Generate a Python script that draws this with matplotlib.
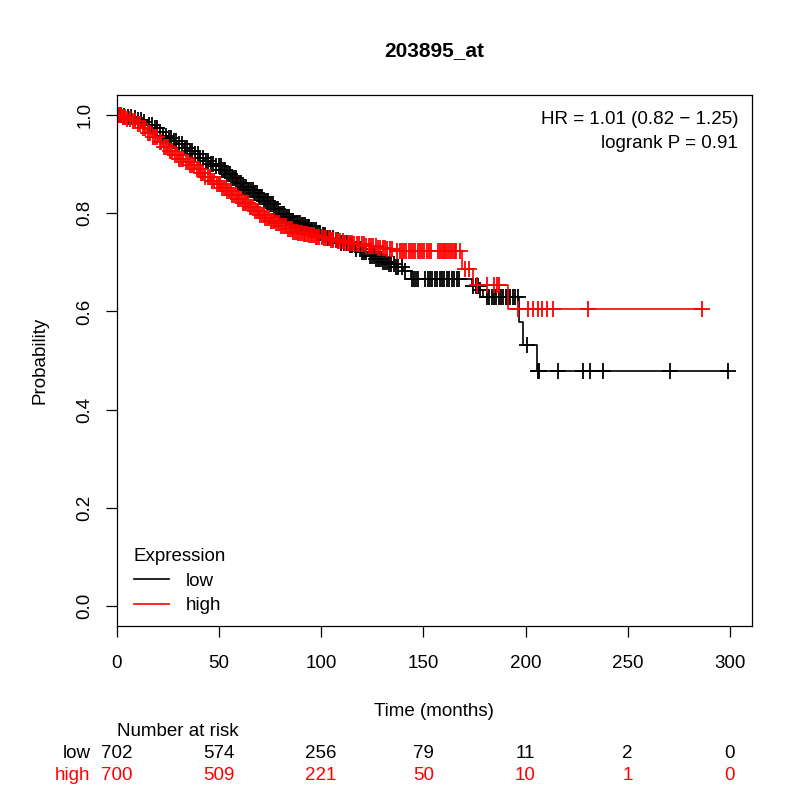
import numpy as np
import matplotlib
matplotlib.use("Agg")
import matplotlib.pyplot as plt
import matplotlib.transforms as mtransforms

plt.rcParams['font.family'] = ['Liberation Sans', 'DejaVu Sans']

# Kaplan-Meier steps (months, survival after the step)
low_t = [0, 2.5, 4.8, 7.1, 9.6, 12.2, 14.7, 17.3, 19.9, 22.4, 25.0, 27.6, 30.1,
         32.7, 35.2, 37.8, 40.5, 43.1, 45.8, 48.4, 51.0, 53.5, 56.1, 58.6, 61.2,
         63.9, 66.5, 69.0, 71.6, 74.2, 76.8, 79.3, 81.9, 84.6, 87.2, 89.8, 92.4,
         95.0, 97.6, 100.3, 103.0, 106.2, 109.5, 112.8, 116.0, 119.4, 122.7,
         126.1, 129.6, 133.0, 136.5, 140.1, 143.8, 174.0, 177.6, 179.2, 197.0,
         198.6, 205.6]
low_s = [1.000, 0.998, 0.995, 0.993, 0.990, 0.986, 0.980, 0.973, 0.965, 0.958,
         0.952, 0.946, 0.940, 0.933, 0.927, 0.920, 0.913, 0.906, 0.900, 0.895,
         0.888, 0.880, 0.871, 0.862, 0.854, 0.847, 0.840, 0.832, 0.825, 0.818,
         0.809, 0.799, 0.792, 0.785, 0.780, 0.776, 0.771, 0.766, 0.760, 0.755,
         0.750, 0.746, 0.740, 0.735, 0.728, 0.720, 0.712, 0.706, 0.700, 0.696,
         0.690, 0.683, 0.667, 0.652, 0.644, 0.630, 0.579, 0.532, 0.478]
low_cens = [0.8, 1.5, 2.2, 3.6, 5.5, 7.0, 8.9, 10.4, 12.0, 13.3, 15.6, 17.0, 18.5,
            19.8, 21.2, 22.7, 23.9, 25.4, 26.3, 27.8, 29.1, 30.6, 31.9, 33.2, 34.5,
            35.8, 36.9, 38.4, 39.5, 40.9, 42.2, 43.6, 44.8, 46.1, 47.3, 48.7, 49.9,
            50.8, 51.6, 52.5, 53.1, 53.9, 54.8, 55.4, 56.2, 57.1, 57.8, 58.5, 59.4,
            60.1, 60.9, 61.7, 62.4, 63.2, 64.1, 64.7, 65.5, 66.4, 67.1, 67.8, 68.7,
            69.4, 70.2, 70.9, 71.8, 72.5, 73.3, 74.1, 74.8, 75.6, 76.5, 77.1, 77.9,
            78.8, 79.5, 80.2, 81.1, 81.8, 82.6, 83.4, 84.1, 84.9, 85.8, 86.4, 87.2,
            88.1, 88.8, 89.5, 90.4, 91.1, 91.9, 92.7, 93.4, 94.2, 95.1, 95.7, 96.5,
            97.4, 98.1, 98.8, 99.6, 100.7, 101.9, 103.4, 104.2, 105.8, 107.1, 108.3,
            109.9, 111.2, 112.6, 114.0, 115.3, 117.1, 118.8, 119.9, 120.8, 122.1,
            124.0, 124.9, 125.8, 126.7, 127.6, 128.5, 129.4, 130.3, 131.2, 132.1,
            133.0, 134.2, 135.5, 136.6, 137.8, 139.4, 141.2, 144.5, 145.3, 146.2,
            147.6, 151.0, 152.1, 153.3, 154.4, 155.5, 156.8, 158.0, 159.2, 160.3,
            161.5, 162.7, 163.8, 165.0, 166.3, 167.6, 174.5, 175.6, 176.8, 177.9,
            181.2, 182.3, 183.5, 184.6, 185.7, 186.9, 188.0, 189.2, 190.3, 191.5,
            192.6, 193.8, 195.0, 196.1, 200.9, 205.9, 206.4, 216.0, 228.0, 231.5,
            238.0, 270.7, 299.0]

high_t = [0, 2.4, 4.9, 7.3, 9.8, 12.3, 14.9, 17.4, 20.0, 22.6, 25.1, 27.7, 30.3,
          32.8, 35.4, 38.1, 40.7, 43.3, 45.9, 48.5, 51.2, 53.8, 56.4, 59.1, 61.7,
          64.4, 67.0, 69.7, 72.3, 75.0, 77.6, 80.3, 83.0, 85.7, 88.4, 91.1, 94.0,
          97.2, 100.5, 104.1, 107.8, 111.6, 116.0, 121.3, 127.5, 132.0, 136.2,
          169.1, 174.3, 191.2]
high_s = [1.000, 0.996, 0.992, 0.987, 0.981, 0.973, 0.964, 0.955, 0.945, 0.935,
          0.927, 0.919, 0.911, 0.904, 0.897, 0.889, 0.882, 0.874, 0.866, 0.859,
          0.852, 0.845, 0.837, 0.829, 0.821, 0.813, 0.805, 0.797, 0.791, 0.785,
          0.779, 0.773, 0.767, 0.762, 0.759, 0.757, 0.755, 0.752, 0.749, 0.746,
          0.743, 0.740, 0.737, 0.734, 0.730, 0.727, 0.722, 0.687, 0.654, 0.606]
high_cens = [0.6, 1.3, 2.0, 2.9, 3.8, 5.1, 6.4, 7.9, 9.0, 10.2, 11.5, 12.6, 13.9,
             15.1, 16.2, 17.6, 18.8, 19.7, 20.9, 21.8, 22.9, 24.1, 25.0, 26.1, 27.2,
             28.3, 29.4, 30.5, 31.5, 32.6, 33.7, 34.8, 35.9, 36.9, 38.0, 39.1, 40.2,
             41.3, 42.3, 43.4, 44.5, 45.6, 46.6, 47.7, 48.8, 49.8, 50.6, 51.5, 52.3,
             53.2, 54.0, 54.9, 55.7, 56.6, 57.4, 58.3, 59.1, 60.0, 60.8, 61.7, 62.5,
             63.4, 64.2, 65.1, 65.9, 66.8, 67.6, 68.5, 69.3, 70.2, 71.0, 71.9, 72.7,
             73.6, 74.4, 75.3, 76.1, 77.0, 77.8, 78.7, 79.5, 80.4, 81.2, 82.1, 82.9,
             83.8, 84.6, 85.5, 86.3, 87.2, 88.0, 88.9, 89.7, 90.6, 91.4, 92.3, 93.1,
             94.0, 94.8, 95.7, 96.5, 97.4, 98.2, 99.1, 100.2, 101.4, 102.5, 103.7,
             104.8, 106.0, 107.1, 108.3, 109.4, 110.6, 111.7, 112.9, 114.0, 115.2,
             116.3, 117.5, 118.6, 119.8, 120.9, 122.1, 123.2, 124.4, 125.5, 126.7,
             127.8, 129.0, 130.1, 131.3, 132.4, 133.6, 134.7, 137.3, 138.4, 139.5,
             140.6, 141.7, 142.8, 143.9, 145.0, 146.1, 147.2, 148.3, 149.4, 150.5,
             151.6, 152.7, 153.8, 157.2, 158.1, 159.0, 159.9, 160.8, 161.7, 162.6,
             163.5, 164.4, 165.3, 166.2, 168.0, 170.4, 172.1, 176.2, 180.9, 184.8,
             185.9, 187.0, 196.2, 201.0, 203.8, 206.2, 208.1, 210.4, 213.3, 230.5,
             286.5]

risk_times = [0, 50, 100, 150, 200, 250, 300]
risk_low = [702, 574, 256, 79, 11, 2, 0]
risk_high = [700, 509, 221, 50, 10, 1, 0]

title = "203895_at"
hr_text = "HR = 1.01 (0.82 \u2212 1.25)\nlogrank P = 0.91"

FS = 13.5

fig = plt.figure(figsize=(8, 8), dpi=100)
ax = fig.add_axes([0.146, 0.2175, 0.794, 0.6635])


def km(ts, ss, cens, color, label):
    ts = np.asarray(ts)
    ss = np.asarray(ss)
    cens = np.asarray(cens)
    # extend the curve to the last censored time
    tt = np.append(ts, cens.max())
    sv = np.append(ss, ss[-1])
    ax.step(tt, sv, where='post', color=color, lw=1.2, label=label)
    idx = np.searchsorted(ts, cens, side='right') - 1
    ax.plot(cens, ss[idx], ls='none', marker='+', ms=11, mew=1.3, color=color)


km(low_t, low_s, low_cens, 'black', 'low')
km(high_t, high_s, high_cens, '#ff0000', 'high')

ax.set_xlim(0, 310.8)
ax.set_ylim(-0.04, 1.04)
ax.set_xticks(risk_times)
ax.set_yticks([0.0, 0.2, 0.4, 0.6, 0.8, 1.0])
ax.set_yticklabels(['0.0', '0.2', '0.4', '0.6', '0.8', '1.0'])
ax.tick_params(axis='both', direction='out', length=8, width=0.9,
               labelsize=FS, pad=13)
ax.tick_params(axis='y', labelrotation=90, pad=9)
for lab in ax.get_yticklabels():
    lab.set_va('center')
for sp in ax.spines.values():
    sp.set_linewidth(0.9)

ax.set_xlabel("Time (months)", fontsize=FS, labelpad=22)
ax.set_ylabel("Probability", fontsize=FS, labelpad=20)
ax.set_title(title, fontsize=15, fontweight='bold', pad=28)

ax.text(0.978, 0.97, hr_text, transform=ax.transAxes, ha='right', va='top',
        fontsize=FS, linespacing=1.5)

leg = ax.legend(loc='lower left', bbox_to_anchor=(0.0, -0.01), frameon=False,
                title="Expression", fontsize=FS, title_fontsize=FS,
                handlelength=1.9, handletextpad=0.9, labelspacing=0.4,
                alignment='left')

# number at risk table
trans = mtransforms.blended_transform_factory(ax.transData, fig.transFigure)
fig.text(0.146, 1 - 731 / 800, "Number at risk", fontsize=FS, ha='left', va='center')
fig.text(0.113, 1 - 753 / 800, "low", fontsize=FS, ha='right', va='center', color='black')
fig.text(0.113, 1 - 775 / 800, "high", fontsize=FS, ha='right', va='center', color='#ff0000')
for t, nl, nh in zip(risk_times, risk_low, risk_high):
    ax.text(t, 1 - 753 / 800, str(nl), transform=trans, ha='center', va='center',
            fontsize=FS, color='black')
    ax.text(t, 1 - 775 / 800, str(nh), transform=trans, ha='center', va='center',
            fontsize=FS, color='#ff0000')

fig.savefig("out.png", dpi=100)
